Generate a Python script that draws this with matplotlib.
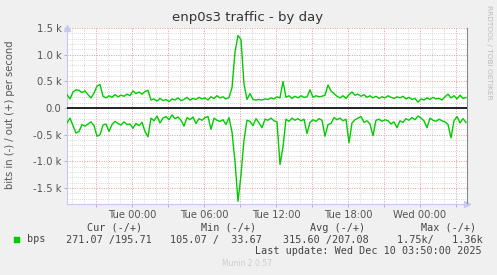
"""
munin style interface traffic graph (by day)
"""

import matplotlib
matplotlib.use('Agg')
import matplotlib.pyplot as plt
import matplotlib.dates as mdates
from matplotlib.ticker import FuncFormatter, MultipleLocator
import pandas as pd

# samples every 15 minutes, last one at the "last update" time
start = '2025-12-08 18:35'
step = '15min'

# out (+) traffic, bits per second
out_bps = [
    250, 170, 300, 340, 330, 290, 320, 250, 190, 280,
    410, 440, 220, 190, 230, 200, 250, 210, 240, 220,
    260, 230, 320, 270, 300, 260, 310, 330, 150, 170,
    130, 180, 140, 160, 120, 170, 150, 190, 140, 160,
    200, 150, 180, 160, 200, 170, 190, 150, 210, 180,
    230, 190, 210, 170, 200, 380, 1050, 1360, 1280, 450,
    160, 270, 160, 150, 160, 150, 170, 160, 190, 170,
    210, 190, 500, 200, 230, 180, 220, 190, 230, 200,
    210, 340, 200, 230, 210, 220, 240, 430, 320, 270,
    220, 190, 230, 180, 250, 300, 240, 260, 220, 250,
    200, 230, 190, 220, 180, 210, 190, 230, 200, 180,
    210, 190, 220, 170, 200, 160, 180, 110, 170, 150,
    190, 160, 200, 170, 180, 150, 210, 260, 190, 230,
    170, 240, 180, 196,
]

# in (-) traffic, bits per second (drawn below zero)
in_bps = [
    280, 190, 330, 470, 440, 310, 340, 300, 260, 330,
    530, 500, 320, 300, 440, 310, 250, 290, 320, 260,
    310, 300, 380, 290, 330, 270, 440, 540, 190, 240,
    150, 280, 190, 160, 220, 130, 200, 170, 230, 340,
    180, 220, 170, 290, 200, 230, 180, 160, 400, 190,
    230, 250, 220, 310, 180, 450, 1000, 1750, 1250, 600,
    230, 250, 330, 200, 280, 370, 210, 230, 190, 240,
    260, 1060, 730, 210, 250, 190, 230, 200, 240, 210,
    480, 270, 220, 250, 200, 230, 530, 310, 290, 180,
    220, 190, 240, 210, 650, 280, 220, 190, 160, 270,
    240, 300, 520, 230, 210, 250, 220, 240, 300, 260,
    370, 240, 270, 200, 230, 180, 220, 150, 190, 240,
    370, 190, 230, 250, 210, 240, 260, 310, 560, 240,
    160, 280, 200, 271,
]

legend_cols = ['Cur (-/+)', 'Min (-/+)', 'Avg (-/+)', 'Max (-/+)']
legend_vals = ['271.07 /195.71', '105.07 /  33.67', '315.60 /207.08',
               '1.75k/   1.36k']

times = pd.date_range(start, periods=len(out_bps), freq=step)

W, H = 497, 275
fig = plt.figure(figsize=(W / 100, H / 100), dpi=100, facecolor='#f0f0f0')
ax = fig.add_axes([67 / W, (H - 204) / H, 400 / W, 176 / H])
ax.set_facecolor('white')

green = '#00cc00'
ax.plot(times, out_bps, color=green, lw=1.0, zorder=3)
ax.plot(times, [-v for v in in_bps], color=green, lw=1.0, zorder=3)
ax.axhline(0, color='black', lw=1.2, zorder=4)

x0 = pd.Timestamp('2025-12-08 18:35')
ax.set_xlim(x0, x0 + pd.Timedelta(minutes=5 * 400))
ax.set_ylim(-1800, 1500)

# grids: red dotted major, grey dotted minor
ax.yaxis.set_major_locator(MultipleLocator(500))
ax.yaxis.set_minor_locator(MultipleLocator(100))
ax.xaxis.set_major_locator(mdates.HourLocator(byhour=range(0, 24, 3)))
ax.xaxis.set_minor_locator(mdates.HourLocator())
ax.grid(which='minor', color='#cccccc', ls=(0, (1, 1.5)), lw=0.6, zorder=1)
ax.grid(which='major', color='#e89a9a', ls=(0, (1, 1.5)), lw=0.7, zorder=2)


def ylab(v, pos):
    if v == 0:
        return '0.0'
    return '%.1f k' % (v / 1000)


def xlab(v, pos):
    d = mdates.num2date(v)
    if d.hour % 6:
        return ''
    return d.strftime('%a %H:%M')


ax.yaxis.set_major_formatter(FuncFormatter(ylab))
ax.xaxis.set_major_formatter(FuncFormatter(xlab))
ax.tick_params(which='both', colors='#aaaaaa', labelcolor='#555555',
               labelsize=7.2, length=2, width=0.6, pad=2)
ax.tick_params(which='minor', length=0)

for s in ('left', 'bottom'):
    ax.spines[s].set_color('#c8c8f0')
    ax.spines[s].set_linewidth(0.8)
ax.spines['top'].set_visible(False)
ax.spines['right'].set_color('#888888')
ax.spines['right'].set_linewidth(0.8)

# axis arrows
ax.plot(0, 1, marker='^', color='#c8c8f0', ms=4, transform=ax.transAxes,
        clip_on=False)
ax.plot(1, 0, marker='>', color='#c8c8f0', ms=4, transform=ax.transAxes,
        clip_on=False)

fig.text(248 / W, 1 - 18 / H, 'enp0s3 traffic - by day', ha='center',
         va='center', fontsize=9.5, color='#333333')
fig.text(10 / W, 1 - 115 / H, 'bits in (-) / out (+) per second',
         rotation=90, ha='center', va='center', fontsize=7.2, color='#555555')
fig.text(489 / W, 1 - 5 / H, 'RRDTOOL / TOBI OETIKER', rotation=270,
         ha='center', va='top', fontsize=5.3, color='#bbbbbb')

mono = 'DejaVu Sans Mono'
ms = 7.3
hdr_right = [142, 256, 365, 476]
val_right = [152, 262, 369, 483]
for txt, xr in zip(legend_cols, hdr_right):
    fig.text(xr / W, 1 - 228 / H, txt, ha='right', va='center',
             family=mono, fontsize=ms, color='#444444')
for txt, xr in zip(legend_vals, val_right):
    fig.text(xr / W, 1 - 239.5 / H, txt, ha='right', va='center',
             family=mono, fontsize=ms, color='#444444')
fig.patches.append(plt.Rectangle((14 / W, 1 - 242 / H), 5 / W, 5 / H,
                                 transform=fig.transFigure, color=green))
fig.text(27 / W, 1 - 239.5 / H, 'bps', ha='left', va='center',
         family=mono, fontsize=ms, color='#444444')
fig.text(482 / W, 1 - 251 / H, 'Last update: Wed Dec 10 03:50:00 2025',
         ha='right', va='center', family=mono, fontsize=ms, color='#444444')
fig.text(247 / W, 1 - 264 / H, 'Munin 2.0.57', ha='center', va='center',
         fontsize=5.5, color='#cccccc')

fig.savefig('out.png', dpi=100, facecolor=fig.get_facecolor())
